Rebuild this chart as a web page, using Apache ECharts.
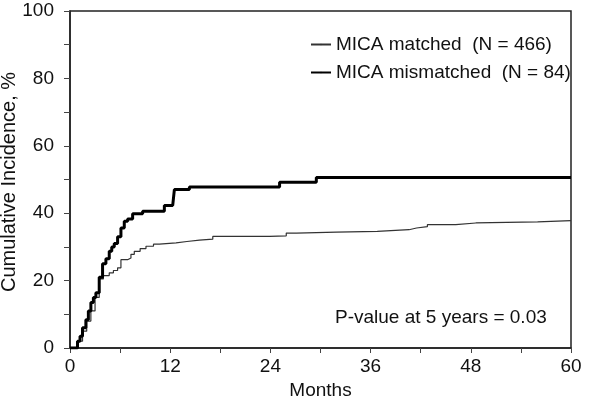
<!DOCTYPE html>
<html>
<head>
<meta charset="utf-8">
<script src="https://cdn.jsdelivr.net/npm/echarts@6/dist/echarts.min.js"></script>
<style>
  html, body { margin: 0; padding: 0; background: #fff; }
  #chart { width: 600px; height: 413px; }
</style>
</head>
<body>
<div id="chart"></div>
<script>
// cumulative incidence (months, %)
var matchedMonths = [0, 0.7, 1.0, 1.5, 2.0, 2.5, 3.0, 3.5, 4.0, 4.7, 5.2, 5.7, 6.1, 6.9, 7.3, 7.7, 8.4, 9.1, 10.0, 10.7, 12.7, 14.0, 15.5, 17.1, 23.9, 25.9, 27.1, 31.9, 36.8, 40.6, 41.5, 42.8, 46.2, 48.6, 56.0, 60];
var matchedPct = [0, 0, 2, 5, 8, 11, 15, 20.5, 21.5, 22.3, 23, 23.8, 26.2, 26.7, 27.8, 28.7, 29.5, 30.2, 30.8, 31.2, 31.6, 32, 32.3, 33.1, 33.3, 34.1, 34.4, 34.6, 35.1, 35.6, 36.0, 36.6, 37.1, 37.4, 37.8, 37.8];

var mismatchedMonths = [0, 0.6, 0.9, 1.2, 1.5, 1.9, 2.2, 2.5, 2.8, 3.1, 3.5, 3.9, 4.3, 4.7, 5.0, 5.3, 5.7, 6.1, 6.5, 6.9, 7.5, 8.7, 11.3, 12.3, 12.5, 14.3, 25.1, 29.5, 60];
var mismatchedPct = [0, 0, 2, 3.5, 6, 8.4, 11, 13.5, 15, 16.4, 21, 25, 26.5, 28.7, 30, 31, 33, 35.6, 37.6, 38.3, 39.8, 40.6, 42.3, 42.5, 47, 47.8, 49.2, 50.6, 50.6];

var seriesNames = ['MICA matched  (N = 466)', 'MICA mismatched  (N = 84)'];
var pText = 'P-value at 5 years = 0.03';

function pairs(xs, ys) {
  return xs.map(function (x, i) { return [x, ys[i]]; });
}

var font = 'Liberation Sans, Arial, sans-serif';
var chart = echarts.init(document.getElementById('chart'));

chart.setOption({
  animation: false,
  textStyle: { fontFamily: font },
  grid: {
    left: 70, right: 29, top: 11, bottom: 65,
    show: true, borderColor: '#222', borderWidth: 1.5
  },
  legend: {
    orient: 'vertical',
    left: 305, top: 30,
    itemWidth: 20,
    itemHeight: 2,
    itemGap: 9,
    textStyle: { fontSize: 19, color: '#111', fontFamily: font },
    data: seriesNames
  },
  xAxis: {
    type: 'value',
    min: 0, max: 60, interval: 12,
    name: 'Months',
    nameLocation: 'middle',
    nameGap: 28,
    nameTextStyle: { fontSize: 19, color: '#111' },
    axisLine: { show: true, lineStyle: { color: '#222', width: 1.5 } },
    axisTick: { show: true, length: 5, lineStyle: { color: '#444' } },
    minorTick: { show: true, splitNumber: 2, length: 5, lineStyle: { color: '#444' } },
    axisLabel: { fontSize: 19, color: '#111', margin: 9 },
    splitLine: { show: false }
  },
  yAxis: {
    type: 'value',
    min: 0, max: 100, interval: 20,
    axisLine: { show: true, lineStyle: { color: '#222', width: 1.5 } },
    axisTick: { show: true, length: 6, lineStyle: { color: '#444' } },
    minorTick: { show: true, splitNumber: 2, length: 6, lineStyle: { color: '#444' } },
    axisLabel: { fontSize: 19, color: '#111', margin: 16 },
    splitLine: { show: false }
  },
  graphic: [
    {
      type: 'text',
      x: 9, y: 182,
      rotation: Math.PI / 2,
      style: {
        text: 'Cumulative Incidence, %',
        font: '20px ' + font,
        fill: '#111',
        align: 'center',
        verticalAlign: 'middle'
      }
    },
    {
      type: 'text',
      left: 335, top: 308,
      style: { text: pText, font: '19px ' + font, fill: '#111' }
    }
  ],
  series: [
    {
      name: seriesNames[0],
      type: 'line',
      step: 'end',
      symbol: 'none',
      lineStyle: { color: '#333', width: 1.2 },
      itemStyle: { color: '#333' },
      data: pairs(matchedMonths, matchedPct)
    },
    {
      name: seriesNames[1],
      type: 'line',
      step: 'end',
      symbol: 'none',
      lineStyle: { color: '#000', width: 3 },
      itemStyle: { color: '#000' },
      data: pairs(mismatchedMonths, mismatchedPct)
    }
  ]
});

window.addEventListener('resize', function () { chart.resize(); });
</script>
</body>
</html>
